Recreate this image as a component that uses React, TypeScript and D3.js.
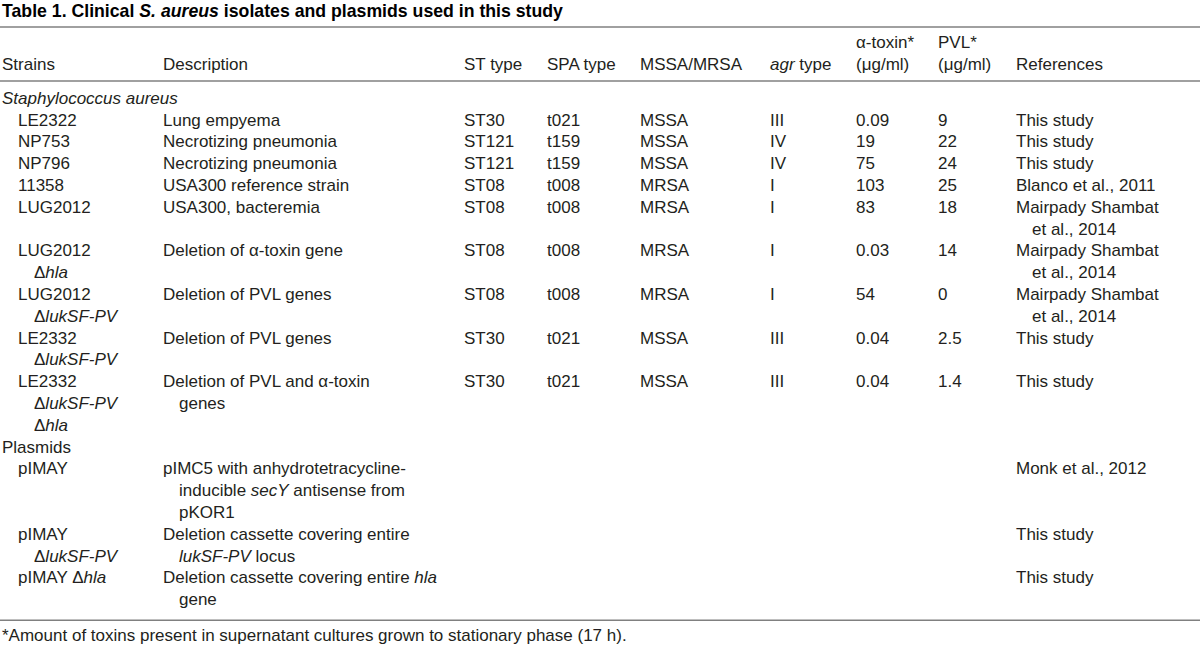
import React from "react";
import * as d3 from "d3";

// ---- Table content ----
const titleParts = ["Table 1. Clinical ", "{S. aureus}", " isolates and plasmids used in this study"];
const headerTop = ["", "", "", "", "", "", "α-toxin*", "PVL*", ""];
const headerBottom = ["Strains", "Description", "ST type", "SPA type", "MSSA/MRSA", "{agr} type", "(μg/ml)", "(μg/ml)", "References"];

const sectionLabels = ["{Staphylococcus aureus}", "Plasmids"];
const sectionStartRow = [0, 9];

const strains = [
  ["LE2322"],
  ["NP753"],
  ["NP796"],
  ["11358"],
  ["LUG2012"],
  ["LUG2012", "  Δ{hla}"],
  ["LUG2012", "  Δ{lukSF-PV}"],
  ["LE2332", "  Δ{lukSF-PV}"],
  ["LE2332", "  Δ{lukSF-PV}", "  Δ{hla}"],
  ["pIMAY"],
  ["pIMAY", "  Δ{lukSF-PV}"],
  ["pIMAY Δ{hla}"],
];
const descriptions = [
  ["Lung empyema"],
  ["Necrotizing pneumonia"],
  ["Necrotizing pneumonia"],
  ["USA300 reference strain"],
  ["USA300, bacteremia"],
  ["Deletion of α-toxin gene"],
  ["Deletion of PVL genes"],
  ["Deletion of PVL genes"],
  ["Deletion of PVL and α-toxin", "  genes"],
  ["pIMC5 with anhydrotetracycline-", "  inducible {secY} antisense from", "  pKOR1"],
  ["Deletion cassette covering entire", "  {lukSF-PV} locus"],
  ["Deletion cassette covering entire {hla}", "  gene"],
];
const stTypes = ["ST30", "ST121", "ST121", "ST08", "ST08", "ST08", "ST08", "ST30", "ST30", "", "", ""];
const spaTypes = ["t021", "t159", "t159", "t008", "t008", "t008", "t008", "t021", "t021", "", "", ""];
const mssaMrsa = ["MSSA", "MSSA", "MSSA", "MRSA", "MRSA", "MRSA", "MRSA", "MSSA", "MSSA", "", "", ""];
const agrTypes = ["III", "IV", "IV", "I", "I", "I", "I", "III", "III", "", "", ""];
const alphaToxin = ["0.09", "19", "75", "103", "83", "0.03", "54", "0.04", "0.04", "", "", ""];
const pvl = ["9", "22", "24", "25", "18", "14", "0", "2.5", "1.4", "", "", ""];
const references = [
  ["This study"],
  ["This study"],
  ["This study"],
  ["Blanco et al., 2011"],
  ["Mairpady Shambat", "  et al., 2014"],
  ["Mairpady Shambat", "  et al., 2014"],
  ["Mairpady Shambat", "  et al., 2014"],
  ["This study"],
  ["This study"],
  ["Monk et al., 2012"],
  ["This study"],
  ["This study"],
];
const footnote = "*Amount of toxins present in supernatant cultures grown to stationary phase (17 h).";

// ---- Layout ----
const W = 1200;
const H = 645;
const FONT = "'Liberation Sans', Arial, Helvetica, sans-serif";
const TEXT = "#231f20";
const RULE = "#808080";
const colKeys = ["strain", "desc", "st", "spa", "mr", "agr", "alpha", "pvl", "ref"];
const colX = d3.scaleOrdinal<string, number>().domain(colKeys).range([18, 163, 464, 547, 640, 770, 856, 938, 1016]);
const headerX = (k: string) => (k === "strain" ? 2 : colX(k));
const INDENT = 16;

function Rich({ s, x, y, bold }: { s: string; x: number; y: number; bold?: boolean }) {
  let xx = x;
  let str = s;
  const m = str.match(/^ +/);
  if (m) {
    xx += INDENT;
    str = str.slice(m[0].length);
  }
  const parts = str.split(/(\{[^}]*\})/).filter((p) => p.length);
  return (
    <text x={xx} y={y} fontWeight={bold ? "bold" : "normal"} xmlSpace="preserve" style={{ whiteSpace: "pre" }}>
      {parts.map((p, i) =>
        p.startsWith("{") ? (
          <tspan key={i} fontStyle="italic">{p.slice(1, -1)}</tspan>
        ) : (
          <tspan key={i}>{p}</tspan>
        )
      )}
    </text>
  );
}

export default function App() {
  type Cell = { x: number; line: number; text: string };
  const cells: Cell[] = [];
  let line = 0;
  strains.forEach((st, r) => {
    const si = sectionStartRow.indexOf(r);
    if (si >= 0) {
      cells.push({ x: 2, line, text: sectionLabels[si] });
      line += 1;
    }
    const cols: string[][] = [
      st,
      descriptions[r],
      [stTypes[r]],
      [spaTypes[r]],
      [mssaMrsa[r]],
      [agrTypes[r]],
      [alphaToxin[r]],
      [pvl[r]],
      references[r],
    ];
    let h = 1;
    cols.forEach((lines, c) => {
      h = Math.max(h, lines.length);
      lines.forEach((t, li) => {
        if (t) cells.push({ x: colX(colKeys[c]), line: line + li, text: t });
      });
    });
    line += h;
  });
  const nLines = line;
  const y = d3.scaleLinear().domain([0, nLines - 1]).range([103.8, 103.8 + (nLines - 1) * 21.8]);

  const topRule = 27;
  const headRule = 81;
  const bottomRule = y(nLines - 1) + 15;

  return (
    <svg
      width={W}
      height={H}
      viewBox={`0 0 ${W} ${H}`}
      style={{ position: "absolute", left: 0, top: 0, display: "block", background: "#fff" }}
      fontFamily={FONT}
    >
      <rect x={0} y={0} width={W} height={H} fill="#fff" />
      <g fill="#000" fontSize={17.7}>
        <Rich s={titleParts.join("")} x={2} y={16.5} bold />
      </g>
      <line x1={0} x2={W} y1={topRule} y2={topRule} stroke={RULE} strokeWidth={1.5} />
      <g fill={TEXT} fontSize={17}>
        {colKeys.map((k, i) =>
          headerTop[i] ? <Rich key={"ht" + k} s={headerTop[i]} x={headerX(k)} y={47.8} /> : null
        )}
        {colKeys.map((k, i) => (
          <Rich key={"hb" + k} s={headerBottom[i]} x={headerX(k)} y={69.6} />
        ))}
      </g>
      <line x1={0} x2={W} y1={headRule} y2={headRule} stroke={RULE} strokeWidth={1.5} />
      <g fill={TEXT} fontSize={17}>
        {cells.map((c, i) => (
          <Rich key={i} s={c.text} x={c.x} y={y(c.line)} />
        ))}
      </g>
      <line x1={0} x2={W} y1={bottomRule} y2={bottomRule} stroke={RULE} strokeWidth={1.5} />
      <g fill={TEXT} fontSize={17}>
        <Rich s={footnote} x={2} y={bottomRule + 21} />
      </g>
    </svg>
  );
}
